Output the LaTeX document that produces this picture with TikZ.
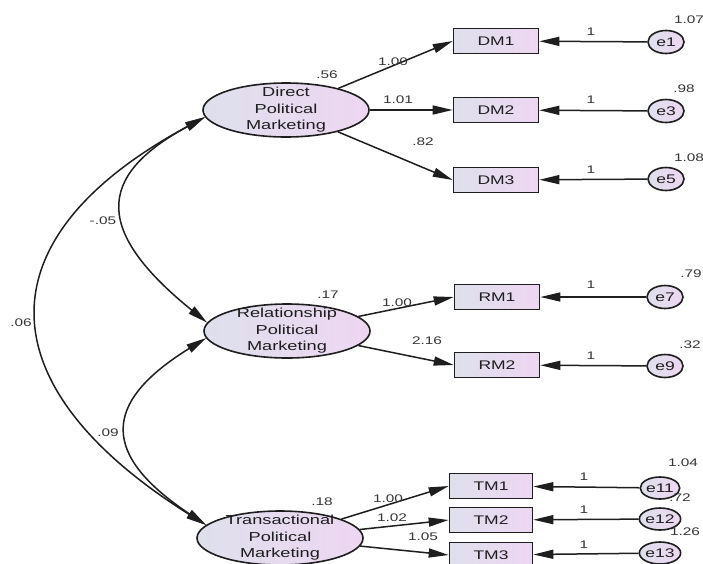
\documentclass[tikz,border=0pt]{standalone}
\usepackage{fontspec}
\setmainfont{Liberation Sans}[FakeStretch=1.4]
\usetikzlibrary{arrows.meta,shapes.geometric}
\definecolor{fillL}{RGB}{222,224,236}
\definecolor{fillR}{RGB}{238,214,242}
\definecolor{ink}{RGB}{30,30,30}

\begin{document}
\begin{tikzpicture}[
  x=1pt,y=-1pt, % pixel like coordinates, y going down
  ->,>={Triangle[length=20pt,width=9pt]}, % filled heads as in the amos output
  line width=1.5pt,
  draw=ink,
  latent node/.style={ellipse,draw=ink,line width=1.6pt,left color=fillL,right color=fillR,minimum width=166pt,minimum height=54pt,inner sep=0pt}, % style of the factors
  item node/.style={rectangle,draw=ink,line width=1.6pt,left color=fillL,right color=fillR,minimum width=85pt,minimum height=25pt,inner sep=0pt,text=ink,font=\fontsize{12.5}{14}\selectfont}, % style of the indicators
  error node/.style={ellipse,draw=ink,line width=1.6pt,left color=fillL,right color=fillR,minimum width=36pt,minimum height=23pt,inner sep=0pt,text=ink,font=\fontsize{12.5}{14}\selectfont}, % style of the error terms
  est/.style={text=ink!90,font=\fontsize{11}{12}\selectfont,inner sep=0pt} % style of the estimates
  ]

  \useasboundingbox (0,0) rectangle (703,563);

  % factors
  \node[latent node,label={[align=center,text=ink,font=\fontsize{13}{16.5}\selectfont]center:Direct\\Political\\Marketing}] (DPM) at (286,110) {};
  \node[latent node,label={[align=center,text=ink,font=\fontsize{13}{16.5}\selectfont]center:Relationship\\Political\\Marketing}] (RPM) at (287,331) {};
  \node[latent node,label={[align=center,text=ink,font=\fontsize{13}{16.5}\selectfont]center:Transactional\\Political\\Marketing}] (TPM) at (280,538) {};

  % indicators
  \node[item node] (DM1) at (496,41) {DM1};
  \node[item node] (DM2) at (496,110) {DM2};
  \node[item node] (DM3) at (496,180) {DM3};
  \node[item node] (RM1) at (497,297) {RM1};
  \node[item node] (RM2) at (497,365) {RM2};
  \node[item node,minimum width=83pt] (TM1) at (491,486) {TM1};
  \node[item node,minimum width=83pt] (TM2) at (491,520) {TM2};
  \node[item node,minimum width=83pt] (TM3) at (491,555) {TM3};

  % errors
  \node[error node] (e1) at (666,42) {e1};
  \node[error node] (e3) at (666,111) {e3};
  \node[error node] (e5) at (666,179) {e5};
  \node[error node] (e7) at (665,297) {e7};
  \node[error node] (e9) at (665,366) {e9};
  \node[error node,minimum width=34pt,minimum height=22pt] (e11) at (660,488) {e11};
  \node[error node,minimum width=34pt,minimum height=22pt] (e12) at (660,519) {e12};
  \node[error node,minimum width=34pt,minimum height=22pt] (e13) at (660,553) {e13};

  \path
    (DPM) edge (DM1.west)
    (DPM) edge (DM2.west)
    (DPM) edge (DM3.west)
    (RPM) edge (RM1.west)
    (RPM) edge (RM2.west)
    (TPM) edge (TM1.west)
    (TPM) edge (TM2.west)
    (TPM) edge (TM3.west)
    (e1) edge (DM1)
    (e3) edge (DM2)
    (e5) edge (DM3)
    (e7) edge (RM1)
    (e9) edge (RM2)
    (e11) edge (TM1)
    (e12) edge (TM2)
    (e13) edge (TM3);

  % covariances
  \draw[<->] (DPM.185) .. controls +(-223,120) and +(-223,-140) .. (TPM.170);
  \draw[<->] (DPM.185) .. controls +(-111,60) and +(-111,-90) .. (RPM.174);
  \draw[<->] (RPM.185) .. controls +(-105,65) and +(-105,-70) .. (TPM.170);

  % estimates
  \node[est] (c1) at (103,221) {-.05};
  \node[est] (c2) at (21,323) {.06};
  \node[est] (c3) at (108,433) {.09};

  \node[est] (v1) at (327,75) {.56};
  \node[est] (v2) at (328,295) {.17};
  \node[est] (v3) at (322,502) {.18};

  \node[est] (w1) at (393,62) {1.00};
  \node[est] (w2) at (398,100) {1.01};
  \node[est] (w3) at (423,142) {.82};
  \node[est] (w4) at (397,303) {1.00};
  \node[est] (w5) at (427,341) {2.16};
  \node[est] (w6) at (388,499) {1.00};
  \node[est] (w7) at (392,518) {1.02};
  \node[est] (w8) at (423,537) {1.05};

  \node[est] (u1) at (689,20) {1.07};
  \node[est] (u3) at (684,89) {.98};
  \node[est] (u5) at (689,158) {1.08};
  \node[est] (u7) at (691,274) {.79};
  \node[est] (u9) at (690,345) {.32};
  \node[est] (u11) at (683,463) {1.04};
  \node[est] (u12) at (680,498) {.72};
  \node[est] (u13) at (685,532) {1.26};

  \foreach \i/\p in {1/{(591,32)},3/{(591,100)},5/{(591,170)},7/{(591,285)},9/{(591,356)},11/{(584,477)},12/{(584,510)},13/{(584,545)}}
    \node[est] (f\i) at \p {1};
\end{tikzpicture}
\end{document}
